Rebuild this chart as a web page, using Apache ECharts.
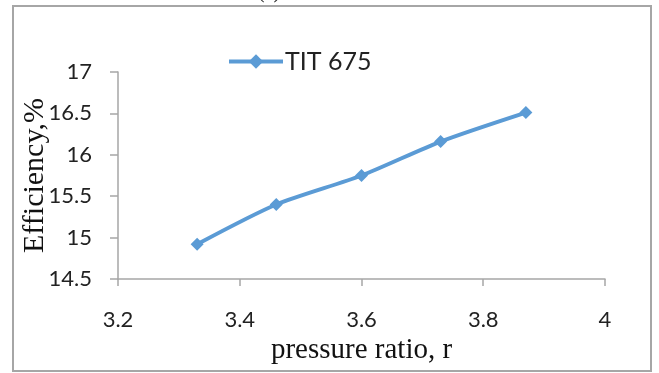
<!DOCTYPE html>
<html>
<head>
<meta charset="utf-8">
<script src="https://cdn.jsdelivr.net/npm/echarts@6/dist/echarts.min.js"></script>
<style>
  html, body { margin: 0; padding: 0; background: #fff; }
  #chart { width: 659px; height: 373px; }
</style>
</head>
<body>
<div id="chart"></div>
<script>
// Pressure ratio vs. cycle efficiency at turbine inlet temperature 675
const seriesName = 'TIT 675';
const pressureRatio = [3.33, 3.46, 3.6, 3.73, 3.87];
const efficiency = [14.92, 15.40, 15.75, 16.16, 16.51];

const xTitle = 'pressure ratio, r';
const yTitle = 'Efficiency,%';
const panelTag = '(c)';

const axisGrey = '#a6a6a6';
const lineBlue = '#5b9bd5';
const tickFont = { fontFamily: 'Lato', fontSize: 22, color: '#222' };

const chart = echarts.init(document.getElementById('chart'), null, { renderer: 'canvas' });

chart.setOption({
  animation: false,
  backgroundColor: '#fff',
  graphic: [
    {
      type: 'rect',
      shape: { x: 13, y: 6, width: 638, height: 365 },
      style: { fill: 'none', stroke: axisGrey, lineWidth: 2 },
      silent: true
    },
    {
      type: 'text',
      left: 258, top: -17,
      style: { text: panelTag, font: '20px "Liberation Serif"', fill: '#222' },
      silent: true
    }
  ],
  legend: {
    left: 222, top: 44,
    itemWidth: 54, itemHeight: 18, itemGap: 4,
    lineStyle: { width: 4 },
    textStyle: { fontFamily: 'Lato', fontSize: 25, color: '#222', padding: [0, 0, 0, -3] },
    data: [seriesName]
  },
  grid: { left: 118, right: 54, top: 72, bottom: 94, containLabel: false },
  xAxis: {
    type: 'value',
    min: 3.2, max: 4, interval: 0.2,
    name: xTitle,
    nameLocation: 'middle',
    nameGap: 57,
    nameMoveOverlap: false,
    nameTextStyle: { fontFamily: 'Liberation Serif', fontSize: 29, color: '#111' },
    axisLine: { show: true, lineStyle: { color: axisGrey, width: 1.5 } },
    axisTick: { show: true, length: 7, lineStyle: { color: axisGrey, width: 1.5 } },
    axisLabel: Object.assign({ margin: 30 }, tickFont),
    splitLine: { show: false }
  },
  yAxis: {
    type: 'value',
    min: 14.5, max: 17, interval: 0.5,
    name: yTitle,
    nameLocation: 'middle',
    nameGap: 68,
    nameMoveOverlap: false,
    nameRotate: 90,
    nameTextStyle: { fontFamily: 'Liberation Serif', fontSize: 30, color: '#111' },
    axisLine: { show: true, lineStyle: { color: axisGrey, width: 1.5 } },
    axisTick: { show: true, length: 8, lineStyle: { color: axisGrey, width: 1.5 } },
    axisLabel: Object.assign({ margin: 26 }, tickFont),
    splitLine: { show: false }
  },
  series: [{
    name: seriesName,
    type: 'line',
    smooth: 0.25,
    data: pressureRatio.map((x, i) => [x, efficiency[i]]),
    symbol: 'diamond',
    symbolSize: 13,
    itemStyle: { color: lineBlue },
    lineStyle: { color: lineBlue, width: 4 }
  }]
});
</script>
</body>
</html>
